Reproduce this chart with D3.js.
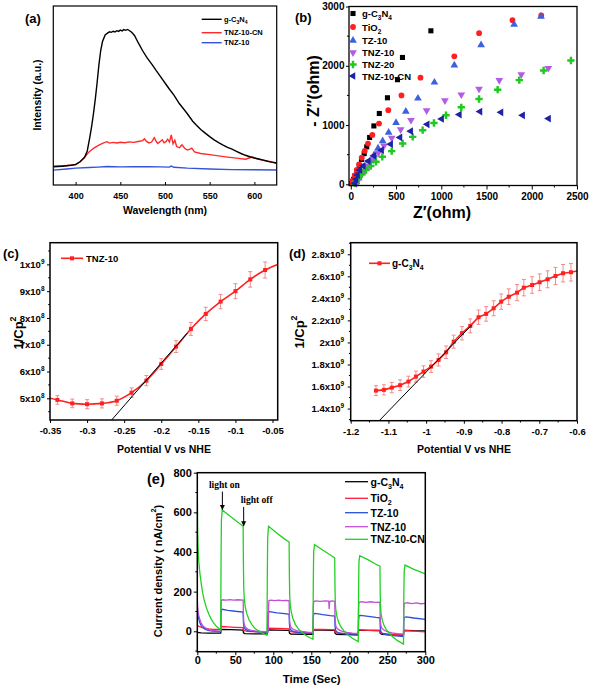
<!DOCTYPE html>
<html><head><meta charset="utf-8">
<script src="https://cdn.jsdelivr.net/npm/d3@7"></script>
<style>
body{margin:0;background:#fff;}
svg text{font-family:"Liberation Sans",Arial,sans-serif;font-weight:bold;fill:#000;}
</style></head><body>
<svg id="c" width="591" height="688"></svg>
<script>
// ================= DATA =================
// (a) PL spectra: [wavelength nm, intensity a.u.]
const aBlack = [[375,10.2],[385,10.5],[395,11],[400,11.5],[405,13],[410,15.5],[413,19],[416,27],[418,33],[420,40],[422,48],[424,57],[426,67],[428,75],[430,80],[433,83.8],[436,85],[438,85.6],[440,85.3],[442,85.9],[444,85.5],[446,86.2],[448,85.8],[450,86.5],[452,86.1],[454,86.8],[456,86.4],[458,86.9],[460,86.3],[462,85.6],[464,84.6],[466,83.4],[470,79.5],[475,75],[480,71],[486,67],[490,64],[495,60.5],[500,57],[505,53.5],[510,50.2],[516,45.5],[520,43],[525,39.8],[531,35.6],[535,33.5],[540,31],[545,29],[550,27],[555,25.2],[560,23.7],[565,22.3],[570,21],[575,20],[580,18.8],[585,17.6],[590,16.6],[595,15.8],[600,15.1],[605,14.5],[610,13.9],[615,13.3],[620,12.8],[625,12.3]];
const aRed = [[375,10.5],[390,10.9],[400,11.3],[405,13],[410,15.5],[415,18.5],[420,20.5],[425,22],[430,23.2],[435,24.2],[438,23.4],[442,23.8],[446,23.5],[450,23.9],[455,23.6],[460,24.1],[465,23.8],[470,24.3],[475,24.8],[477,25.8],[479,24.5],[482,23.5],[485,24],[488,26.4],[490,24.5],[492,23.2],[495,24.4],[497,25.2],[499,23.6],[501,24.2],[503,25.6],[505,24],[507,28],[509,23],[511,25],[513,21.5],[516,20.8],[519,22.4],[522,20.5],[525,19.5],[528,20],[530,20.6],[533,18.5],[540,17.6],[550,17],[560,16.3],[570,15.6],[580,15],[590,14.4],[595,15.2],[598,15.6],[603,14.6],[610,13.8],[625,12.1]];
const aBlue = [[375,8.3],[390,8.9],[400,9.4],[415,9.8],[425,10],[435,10.3],[450,10.1],[465,10.2],[480,10.2],[495,10.1],[505,10],[507,10.6],[510,9.9],[525,9.4],[550,8.9],[575,8.6],[600,8.5],[625,8.4]];
const aTicks = [400,450,500,550,600];
const aNames = ["g-C3N4","TNZ-10-CN","TNZ-10"];

// (b) Nyquist: [Z' ohm, -Z'' ohm]
const bBlack = [[885,2590],[571,2140],[516,1765],[405,1460],[315,1195],[255,985],[208,790],[176,632],[148,518],[118,420],[93,312],[68,225],[46,142],[30,85],[18,40],[10,12]];
const bRed = [[2105,2850],[1787,2770],[1418,2550],[1144,2160],[770,1800],[560,1500],[414,1250],[312,1025],[238,833],[190,688],[154,563],[121,450],[92,338],[66,242],[44,152],[24,70],[12,22]];
const bBlue = [[2102,2830],[1805,2695],[1440,2350],[1144,2010],[924,1720],[742,1450],[608,1230],[500,1040],[418,873],[352,732],[301,608],[257,495],[213,394],[168,285],[125,190],[88,105],[62,40],[50,8]];
const bPurple = [[2183,1960],[1884,1854],[1641,1755],[1417,1610],[1221,1513],[1040,1415],[838,1247],[665,1083],[551,924],[452,783],[367,650],[304,531],[249,420],[193,308],[145,212],[105,128],[75,55],[60,15]];
const bGreen = [[2433,2089],[2131,1921],[1862,1758],[1623,1597],[1417,1439],[1221,1299],[1052,1165],[919,1035],[794,913],[684,800],[573,689],[452,560],[348,464],[278,380],[220,308],[168,240],[120,173],[85,111],[60,55],[45,15]];
const bNavy = [[2186,1109],[1899,1165],[1660,1215],[1428,1227],[1200,1176],[1004,1103],[845,1013],[662,896],[544,790],[441,677],[341,576],[256,481],[193,392],[138,313],[100,240],[75,156],[58,84],[45,20]];
const bXTicks = [0,500,1000,1500,2000,2500];
const bYTicks = [0,1000,2000,3000];
const bNames = ["g-C3N4","TiO2","TZ-10","TNZ-10","TNZ-20","TNZ-10-CN"];

// (c) Mott-Schottky TNZ-10
const cV = [-0.34,-0.32,-0.30,-0.28,-0.26,-0.24,-0.22,-0.20,-0.18,-0.16,-0.14,-0.12,-0.10,-0.08,-0.06];
const cY = [4.94e8,4.81e8,4.78e8,4.81e8,4.91e8,5.21e8,5.66e8,6.28e8,6.93e8,7.59e8,8.15e8,8.61e8,9.0e8,9.44e8,9.79e8];
const cErr = [1.6e7,1.6e7,1.7e7,1.7e7,1.7e7,1.8e7,1.9e7,2.0e7,2.2e7,2.4e7,2.5e7,2.7e7,2.8e7,2.9e7,3.0e7];
const cEnds = [[-0.35,5.0e8],[-0.043,1.0e9]];
const cFit = [[-0.2669,4.19e8],[-0.165,7.43e8]];
const cXTicks = [-0.35,-0.3,-0.25,-0.2,-0.15,-0.1,-0.05];
const cYTicks = [5e8,6e8,7e8,8e8,9e8,1e9];

// (d) Mott-Schottky g-C3N4
const dV = [-1.133,-1.112,-1.091,-1.069,-1.047,-1.027,-1.007,-0.987,-0.967,-0.947,-0.927,-0.905,-0.883,-0.861,-0.841,-0.821,-0.801,-0.781,-0.759,-0.741,-0.719,-0.699,-0.678,-0.657,-0.637,-0.616];
const dY = [1.563e9,1.570e9,1.590e9,1.612e9,1.645e9,1.690e9,1.736e9,1.781e9,1.841e9,1.911e9,2.007e9,2.084e9,2.150e9,2.229e9,2.259e9,2.310e9,2.370e9,2.415e9,2.452e9,2.497e9,2.521e9,2.546e9,2.573e9,2.603e9,2.628e9,2.637e9];
const dErr = [4.5e7,4.6e7,4.7e7,4.8e7,4.9e7,5.0e7,5.2e7,5.3e7,5.5e7,5.7e7,5.9e7,6.1e7,6.3e7,6.5e7,6.6e7,6.8e7,7.0e7,7.1e7,7.3e7,7.4e7,7.5e7,7.6e7,7.7e7,7.8e7,7.9e7,8.0e7];
const dEnd = [-0.6,2.648e9];
const dFit = [[-1.124,1.291e9],[-0.879,2.159e9]];
const dXTicks = [-1.2,-1.1,-1.0,-0.9,-0.8,-0.7,-0.6];
const dYTicks = [1.4e9,1.6e9,1.8e9,2.0e9,2.2e9,2.4e9,2.6e9,2.8e9];

// (e) photocurrent: [time s, nA/cm2]
const eBlack = [[0,-6],[5,-8],[15,-9],[30.8,-9],[31.2,6],[32.5,9],[45,8],[60.3,6],[60.7,-8],[62.5,-12],[75,-13],[92.2,-13],[92.6,4],[94,7],[105,6],[120.8,5],[121.2,-9],[123,-14],[138,-15],[152.2,-15],[152.6,4],[154,7],[165,6],[180.8,5],[181.2,-10],[183,-15],[195,-17],[211.8,-17],[212.2,3],[213.5,6],[225,5],[240.3,4],[240.7,-11],[243,-16],[255,-18],[271.3,-19],[271.7,2],[273,5],[285,3],[300,2]];
const eRed = [[0,30],[1,27],[3,24],[6,20],[10,16],[15,12],[20,10],[25,9],[30.8,8],[31.2,20],[32,24],[40,22],[50,20],[60.3,18],[60.7,8],[62,3],[66,0],[75,-2],[85,-4],[92.2,-5],[92.6,12],[93.5,16],[105,14],[115,13],[120.8,12],[121.2,3],[123,-2],[130,-5],[140,-7],[152.2,-9],[152.6,6],[153.5,10],[165,9],[175,8],[180.8,7],[181.2,-3],[183,-8],[190,-10],[200,-12],[211.8,-14],[212.2,3],[213,7],[225,5],[235,4],[240.3,3],[240.7,-6],[243,-11],[250,-13],[260,-15],[271.3,-17],[271.7,0],[273,4],[285,1],[300,-3]];
const eBlue = [[0,135],[0.4,100],[1,80],[2,60],[3.5,42],[5,30],[7,20],[10,11],[14,5],[20,1],[30.8,-2],[31.2,80],[31.7,108],[33,111],[40,106],[50,101],[60.3,97],[60.7,45],[61.2,25],[62,15],[64,8],[67,3],[72,0],[80,-3],[92.2,-5],[92.6,75],[93.1,97],[95,99],[105,93],[115,89],[120.8,86],[121.2,38],[121.7,18],[122.5,9],[124,3],[127,-2],[133,-6],[142,-9],[152.2,-12],[152.6,65],[153.1,88],[155,90],[165,84],[175,79],[180.8,77],[181.2,30],[181.7,10],[182.5,2],[184,-4],[187,-9],[193,-13],[201,-17],[211.8,-20],[212.2,55],[212.7,78],[215,80],[225,75],[235,70],[240.3,68],[240.7,22],[241.2,4],[242,-5],[243.5,-11],[247,-15],[253,-19],[261,-23],[271.3,-26],[271.7,50],[272.2,70],[275,73],[285,67],[300,60]];
const eMagenta = [[0,162],[0.4,125],[1,100],[2,78],[3.5,58],[5,43],[7,30],[9,21],[12,13],[16,7],[20,4],[25,2],[30.8,1],[31.2,120],[31.7,155],[33,159],[38,157],[43,160],[48,157],[53,159],[60.3,157],[60.7,80],[61.2,45],[62,30],[64,18],[67,10],[71,5],[76,2],[83,0],[93.4,-3],[93.8,130],[94.3,155],[97,157],[102,155],[107,157],[112,155],[116,156],[120.8,155],[121.2,75],[121.7,42],[122.5,27],[124,16],[127,8],[131,3],[138,-1],[145,-4],[152.2,-6],[152.6,120],[153.1,150],[156,153],[162,151],[168,153],[173,152],[173.5,112],[174.2,150],[177,153],[180.8,151],[181.2,72],[181.7,40],[182.5,24],[184,14],[187,6],[191,0],[197,-5],[204,-9],[211.8,-11],[212.2,115],[212.7,145],[216,149],[222,146],[228,149],[234,146],[240.3,147],[240.7,70],[241.2,38],[242,22],[243.5,12],[246.5,4],[250,-2],[256,-8],[263,-12],[271.3,-14],[271.7,110],[272.2,140],[276,144],[282,140],[288,143],[294,139],[300,141]];
const eGreen = [[0,715],[0.4,520],[1,420],[2,350],[3.5,290],[5,245],[7,195],[9,158],[12,118],[15,88],[18,64],[21,45],[24,30],[27,18],[30.8,8],[31.2,330],[31.7,560],[32.8,612],[40,590],[50,560],[60.3,530],[60.7,330],[61.1,220],[61.8,165],[63,125],[65,90],[68,58],[72,32],[76,14],[80,3],[85,-8],[91.7,-20],[92.1,260],[92.6,470],[93.7,530],[105,495],[115,465],[120.8,450],[121.2,270],[121.6,180],[122.3,130],[124,90],[126,62],[129,35],[133,12],[138,-8],[144,-24],[152.2,-40],[152.6,230],[153.1,400],[154.2,437],[165,410],[175,385],[180.8,370],[181.2,215],[181.6,145],[182.3,105],[184,70],[186,45],[189,22],[193,2],[198,-17],[204,-35],[211.8,-52],[212.2,200],[212.7,350],[213.8,381],[225,360],[235,338],[240.3,328],[240.7,185],[241.1,125],[241.8,88],[243.5,55],[245.5,32],[248.5,10],[252,-8],[257,-28],[263,-46],[271.3,-65],[271.7,170],[272.2,300],[273.3,334],[285,312],[300,290]];
const eXTicks = [0,50,100,150,200,250,300];
const eYTicks = [0,200,400,600,800];
const eNames = ["g-C3N4","TiO2","TZ-10","TNZ-10","TNZ-10-CN"];
const eArrowT = [33,61];
const eArrowTop = [705,627];
const eArrowBot = [614,532];
const eArrowText = ["light on","light off"];

// ================= DRAW =================
const svg = d3.select('#c');
const FONT = '"Liberation Sans", Arial, sans-serif';

function rich(t, parts, fs){
  let off = 0;
  parts.forEach(p=>{
    const s = t.append('tspan').text(p[0]);
    let want = 0;
    if(p[1]==='sub'){want = fs*0.32; s.attr('font-size',fs*0.68);}
    else if(p[1]==='sup'){want = -fs*0.42; s.attr('font-size',fs*0.68);}
    if(want!==off){ s.attr('dy', want-off); off = want; }
  });
}
function chemParts(name){
  if(name==='g-C3N4') return [['g-C'],['3','sub'],['N'],['4','sub']];
  if(name==='TiO2') return [['TiO'],['2','sub']];
  return [[name]];
}
function box(x,y,sw){
  const [x0,x1]=x.range(), [y0,y1]=y.range();
  svg.append('rect').attr('x',x0).attr('y',y1).attr('width',x1-x0).attr('height',y0-y1)
    .attr('fill','none').attr('stroke','#000').attr('stroke-width',sw);
}
function styleAxis(g, fs){
  g.select('.domain').remove();
  g.selectAll('line').attr('stroke','#000').attr('stroke-width',1);
  g.selectAll('text').attr('font-size',fs).attr('font-family',FONT).attr('font-weight','bold').attr('fill','#000');
  g.attr('font-size',null).attr('font-family',null);
}
function axisB(x,y,vals,fmt,inner,pad,fs){
  const g = svg.append('g').attr('transform',`translate(0,${y.range()[0]})`)
    .call(d3.axisBottom(x).tickValues(vals).tickFormat(fmt).tickSizeInner(inner).tickSizeOuter(0).tickPadding(pad));
  styleAxis(g,fs); return g;
}
function axisL(x,y,vals,fmt,inner,pad,fs){
  const g = svg.append('g').attr('transform',`translate(${x.range()[0]},0)`)
    .call(d3.axisLeft(y).tickValues(vals).tickFormat(fmt).tickSizeInner(inner).tickSizeOuter(0).tickPadding(pad));
  styleAxis(g,fs); return g;
}
function minorB(x,y,vals,len){
  svg.append('g').selectAll('line').data(vals).join('line')
    .attr('x1',d=>x(d)).attr('x2',d=>x(d)).attr('y1',y.range()[0]).attr('y2',y.range()[0]+len)
    .attr('stroke','#000').attr('stroke-width',1);
}
function minorL(x,y,vals,len){
  svg.append('g').selectAll('line').data(vals).join('line')
    .attr('y1',d=>y(d)).attr('y2',d=>y(d)).attr('x1',x.range()[0]).attr('x2',x.range()[0]-len)
    .attr('stroke','#000').attr('stroke-width',1);
}
function clip(id,x,y){
  const [x0,x1]=x.range(), [y0,y1]=y.range();
  svg.append('clipPath').attr('id',id).append('rect').attr('x',x0).attr('y',y1).attr('width',x1-x0).attr('height',y0-y1);
}
function title(x,y,str,fs,rot){
  const t = svg.append('text').attr('font-size',fs).attr('text-anchor','middle');
  if(rot) t.attr('transform',`translate(${x},${y}) rotate(-90)`).attr('dominant-baseline','central');
  else t.attr('x',x).attr('y',y);
  return t;
}

// ---------- (a) ----------
{
  const x = d3.scaleLinear().domain([375,625]).range([53.3,276.7]);
  const y = d3.scaleLinear().domain([0,100]).range([185,6]);
  clip('clipA',x,y);
  const line = d3.line().x(d=>x(d[0])).y(d=>y(d[1]));
  const series = [[aBlue,'#3552d8'],[aRed,'#ff2a2a'],[aBlack,'#000']];
  series.forEach(([d,c])=>svg.append('path').attr('d',line(d)).attr('fill','none').attr('stroke',c).attr('stroke-width',1.4).attr('clip-path','url(#clipA)'));
  box(x,y,1.2);
  axisB(x,y,aTicks,d3.format('d'),-3,7.5,9);
  title(165,214,null,10.5).text('Wavelength (nm)');
  title(37,95,null,10.5,true).text('Intensity (a.u.)');
  svg.append('text').attr('x',25).attr('y',23).attr('font-size',13).text('(a)');
  const cols = ['#000','#ff2a2a','#3552d8'];
  const ly = [19.3,32.7,42.7];
  aNames.forEach((n,i)=>{
    svg.append('line').attr('x1',201.7).attr('x2',221.7).attr('y1',ly[i]).attr('y2',ly[i]).attr('stroke',cols[i]).attr('stroke-width',1.4);
    const t = svg.append('text').attr('x',224).attr('y',ly[i]+2.7).attr('font-size',7.5);
    rich(t,chemParts(n),7.5);
  });
}

// ---------- (b) ----------
{
  const x = d3.scaleLinear().domain([-20,2500]).range([349,577]);
  const y = d3.scaleLinear().domain([-20,3000]).range([185.5,6.5]);
  const specs = [
    [bBlack,'#000',d3.symbolSquare,26,0],
    [bRed,'#ff1f1f',d3.symbolCircle,26,0],
    [bBlue,'#3d62dc',d3.symbolTriangle,26,0],
    [bPurple,'#b25ce6',d3.symbolTriangle,26,180],
    [bGreen,'#22c822',d3.symbolCross,30,0],
    [bNavy,'#1d22a6',d3.symbolTriangle,26,-90]
  ];
  specs.forEach(([d,c,sym,sz,rot])=>{
    svg.append('g').selectAll('path').data(d).join('path')
      .attr('d',d3.symbol().type(sym).size(sz))
      .attr('transform',p=>`translate(${x(p[0])},${y(p[1])}) rotate(${rot})`)
      .attr('fill',c);
  });
  box(x,y,1.3);
  axisB(x,y,bXTicks,d3.format('d'),4,3,10);
  minorB(x,y,[250,750,1250,1750,2250],2);
  axisL(x,y,bYTicks,d3.format('d'),3,1.5,10);
  minorL(x,y,[500,1500,2500],2);
  title(442,218,null,16).text('Z\u2032(ohm)');
  title(313,91,null,16,true).text('- Z\u2033(ohm)');
  svg.append('text').attr('x',295).attr('y',22).attr('font-size',13).text('(b)');
  const ly = [13.5,27,40.5,52.5,64.5,76];
  bNames.forEach((n,i)=>{
    const [d,c,sym,sz,rot] = specs[i];
    svg.append('path').attr('d',d3.symbol().type(sym).size(sz)()).attr('transform',`translate(353,${ly[i]}) rotate(${rot})`).attr('fill',c);
    const t = svg.append('text').attr('x',362).attr('y',ly[i]+3.5).attr('font-size',9.5);
    rich(t,chemParts(n),9.5);
  });
}

// sci tick label helper
function sciLabels(g, fs){
  g.selectAll('.tick text').each(function(d){
    const e = Math.floor(Math.log10(d)+1e-9);
    const m = +(d/Math.pow(10,e)).toFixed(2);
    const t = d3.select(this).text(null);
    rich(t,[[m+'x10'],[String(e),'sup']],fs);
  });
}

// ---------- (c) ----------
{
  const x = d3.scaleLinear().domain([-0.35,-0.043]).range([50,277.7]);
  const y = d3.scaleLinear().domain([4.19e8,1.081e9]).range([420,242.7]);
  clip('clipC',x,y);
  const pts = cV.map((v,i)=>[v,cY[i]]);
  const full = [cEnds[0],...pts,cEnds[1]];
  const line = d3.line().x(d=>x(d[0])).y(d=>y(d[1])).curve(d3.curveCatmullRom);
  // error bars
  const eb = svg.append('g').attr('stroke','#f28a8a').attr('stroke-width',1);
  pts.forEach((p,i)=>{
    eb.append('line').attr('x1',x(p[0])).attr('x2',x(p[0])).attr('y1',y(p[1]-cErr[i])).attr('y2',y(p[1]+cErr[i]));
    eb.append('line').attr('x1',x(p[0])-2).attr('x2',x(p[0])+2).attr('y1',y(p[1]-cErr[i])).attr('y2',y(p[1]-cErr[i]));
    eb.append('line').attr('x1',x(p[0])-2).attr('x2',x(p[0])+2).attr('y1',y(p[1]+cErr[i])).attr('y2',y(p[1]+cErr[i]));
  });
  svg.append('path').attr('d',line(full)).attr('fill','none').attr('stroke','#ff2020').attr('stroke-width',1.6).attr('clip-path','url(#clipC)');
  svg.append('g').selectAll('rect').data(pts).join('rect')
    .attr('x',p=>x(p[0])-2).attr('y',p=>y(p[1])-2).attr('width',4).attr('height',4).attr('fill','#ff2020');
  svg.append('path').attr('d',d3.line().x(d=>x(d[0])).y(d=>y(d[1]))(cFit)).attr('stroke','#000').attr('stroke-width',1).attr('fill','none');
  box(x,y,1.5);
  axisB(x,y,cXTicks,d=>String(+d.toFixed(2)).replace('0.','0.'),3,4.3,9.5);
  const gl = axisL(x,y,cYTicks,d3.format('d'),3,2.5,9.5);
  sciLabels(gl,9.5);
  minorL(x,y,[4.5e8,5.5e8,6.5e8,7.5e8,8.5e8,9.5e8,1.05e9],1.8);
  title(164,453,null,10.5).text('Potential V vs NHE');
  const t = title(18,333,null,13,true); rich(t,[['1/Cp'],['2','sup']],13);
  svg.append('text').attr('x',3).attr('y',258).attr('font-size',13).text('(c)');
  svg.append('line').attr('x1',61).attr('x2',83).attr('y1',258.3).attr('y2',258.3).attr('stroke','#ff2020').attr('stroke-width',1.6);
  svg.append('rect').attr('x',70).attr('y',256.3).attr('width',4).attr('height',4).attr('fill','#ff2020');
  svg.append('text').attr('x',86).attr('y',261.6).attr('font-size',9.5).text('TNZ-10');
}

// ---------- (d) ----------
{
  const x = d3.scaleLinear().domain([-1.2,-0.6]).range([350.7,577]);
  const y = d3.scaleLinear().domain([1.29e9,2.905e9]).range([420.7,242.7]);
  clip('clipD',x,y);
  const pts = dV.map((v,i)=>[v,dY[i]]);
  const full = [...pts,dEnd];
  const line = d3.line().x(d=>x(d[0])).y(d=>y(d[1]));
  const eb = svg.append('g').attr('stroke','#f28a8a').attr('stroke-width',1);
  pts.forEach((p,i)=>{
    eb.append('line').attr('x1',x(p[0])).attr('x2',x(p[0])).attr('y1',y(p[1]-dErr[i])).attr('y2',y(p[1]+dErr[i]));
    eb.append('line').attr('x1',x(p[0])-2).attr('x2',x(p[0])+2).attr('y1',y(p[1]-dErr[i])).attr('y2',y(p[1]-dErr[i]));
    eb.append('line').attr('x1',x(p[0])-2).attr('x2',x(p[0])+2).attr('y1',y(p[1]+dErr[i])).attr('y2',y(p[1]+dErr[i]));
  });
  svg.append('path').attr('d',line(full)).attr('fill','none').attr('stroke','#ff2020').attr('stroke-width',1.6).attr('clip-path','url(#clipD)');
  svg.append('g').selectAll('rect').data(pts).join('rect')
    .attr('x',p=>x(p[0])-2).attr('y',p=>y(p[1])-2).attr('width',4).attr('height',4).attr('fill','#ff2020');
  svg.append('path').attr('d',line(dFit)).attr('stroke','#000').attr('stroke-width',1).attr('fill','none');
  box(x,y,1.5);
  axisB(x,y,dXTicks,d=>String(+d.toFixed(1)),3,4.3,9.5);
  minorB(x,y,[-1.15,-1.05,-0.95,-0.85,-0.75,-0.65],1.8);
  const gl = axisL(x,y,dYTicks,d3.format('d'),3,3.5,9.5);
  sciLabels(gl,9.5);
  minorL(x,y,[1.3e9,1.5e9,1.7e9,1.9e9,2.1e9,2.3e9,2.5e9,2.7e9,2.9e9],1.8);
  title(464,453,null,10.5).text('Potential V vs NHE');
  const t = title(299,332,null,13,true); rich(t,[['1/Cp'],['2','sup']],13);
  svg.append('text').attr('x',289).attr('y',258).attr('font-size',13).text('(d)');
  svg.append('line').attr('x1',369).attr('x2',390).attr('y1',263.3).attr('y2',263.3).attr('stroke','#ff2020').attr('stroke-width',1.6);
  svg.append('rect').attr('x',377.5).attr('y',261.3).attr('width',4).attr('height',4).attr('fill','#ff2020');
  const lt = svg.append('text').attr('x',392).attr('y',266.5).attr('font-size',10);
  rich(lt,chemParts('g-C3N4'),10);
}

// ---------- (e) ----------
{
  const x = d3.scaleLinear().domain([0,300]).range([197.3,425.3]);
  const y = d3.scaleLinear().domain([-103,800]).range([651.7,472.7]);
  clip('clipE',x,y);
  const line = d3.line().x(d=>x(d[0])).y(d=>y(d[1]));
  const cols = ['#000','#ff1a3a','#2a4fd8','#c24fd6','#22d022'];
  [eBlack,eRed,eBlue,eMagenta,eGreen].forEach((d,i)=>{
    svg.append('path').attr('d',line(d)).attr('fill','none').attr('stroke',cols[i]).attr('stroke-width',1.3).attr('clip-path','url(#clipE)');
  });
  box(x,y,1.5);
  axisB(x,y,eXTicks,d3.format('d'),3.5,1.5,11);
  minorB(x,y,[25,75,125,175,225,275],2);
  axisL(x,y,eYTicks,d3.format('d'),3.5,2,11);
  minorL(x,y,[-100,100,300,500,700],2);
  title(311.7,683,null,11.5).text('Time (Sec)');
  const t = title(158,571,null,11,true);
  rich(t,[['Current density ( nA/cm'],['2','sup'],[')']],11);
  svg.append('text').attr('x',147).attr('y',484).attr('font-size',14.5).text('(e)');
  const ly = [481.7,498.3,512.7,526.7,539.3];
  eNames.forEach((n,i)=>{
    svg.append('line').attr('x1',345).attr('x2',368).attr('y1',ly[i]).attr('y2',ly[i]).attr('stroke',cols[i]).attr('stroke-width',1.3);
    const tt = svg.append('text').attr('x',370.5).attr('y',ly[i]+3.8).attr('font-size',10.5);
    rich(tt,chemParts(n),10.5);
  });
  // annotations
  svg.append('defs').append('marker').attr('id','arr').attr('viewBox','0 0 10 10').attr('refX',9).attr('refY',5)
    .attr('markerWidth',5).attr('markerHeight',6).attr('orient','auto')
    .append('path').attr('d','M0,0L10,5L0,10Z').attr('fill','#000');
  eArrowT.forEach((tv,i)=>{
    svg.append('line').attr('x1',x(tv)).attr('x2',x(tv)).attr('y1',y(eArrowTop[i])).attr('y2',y(eArrowBot[i]))
      .attr('stroke','#000').attr('stroke-width',1).attr('marker-end','url(#arr)');
    svg.append('text').attr('x',x(tv)+(i===0?2:13)).attr('y',y(eArrowTop[i])-4).attr('text-anchor','middle')
      .attr('font-size',9.5).style('font-family','"Liberation Serif","Times New Roman",serif').text(eArrowText[i]);
  });
}
</script>
</body></html>
